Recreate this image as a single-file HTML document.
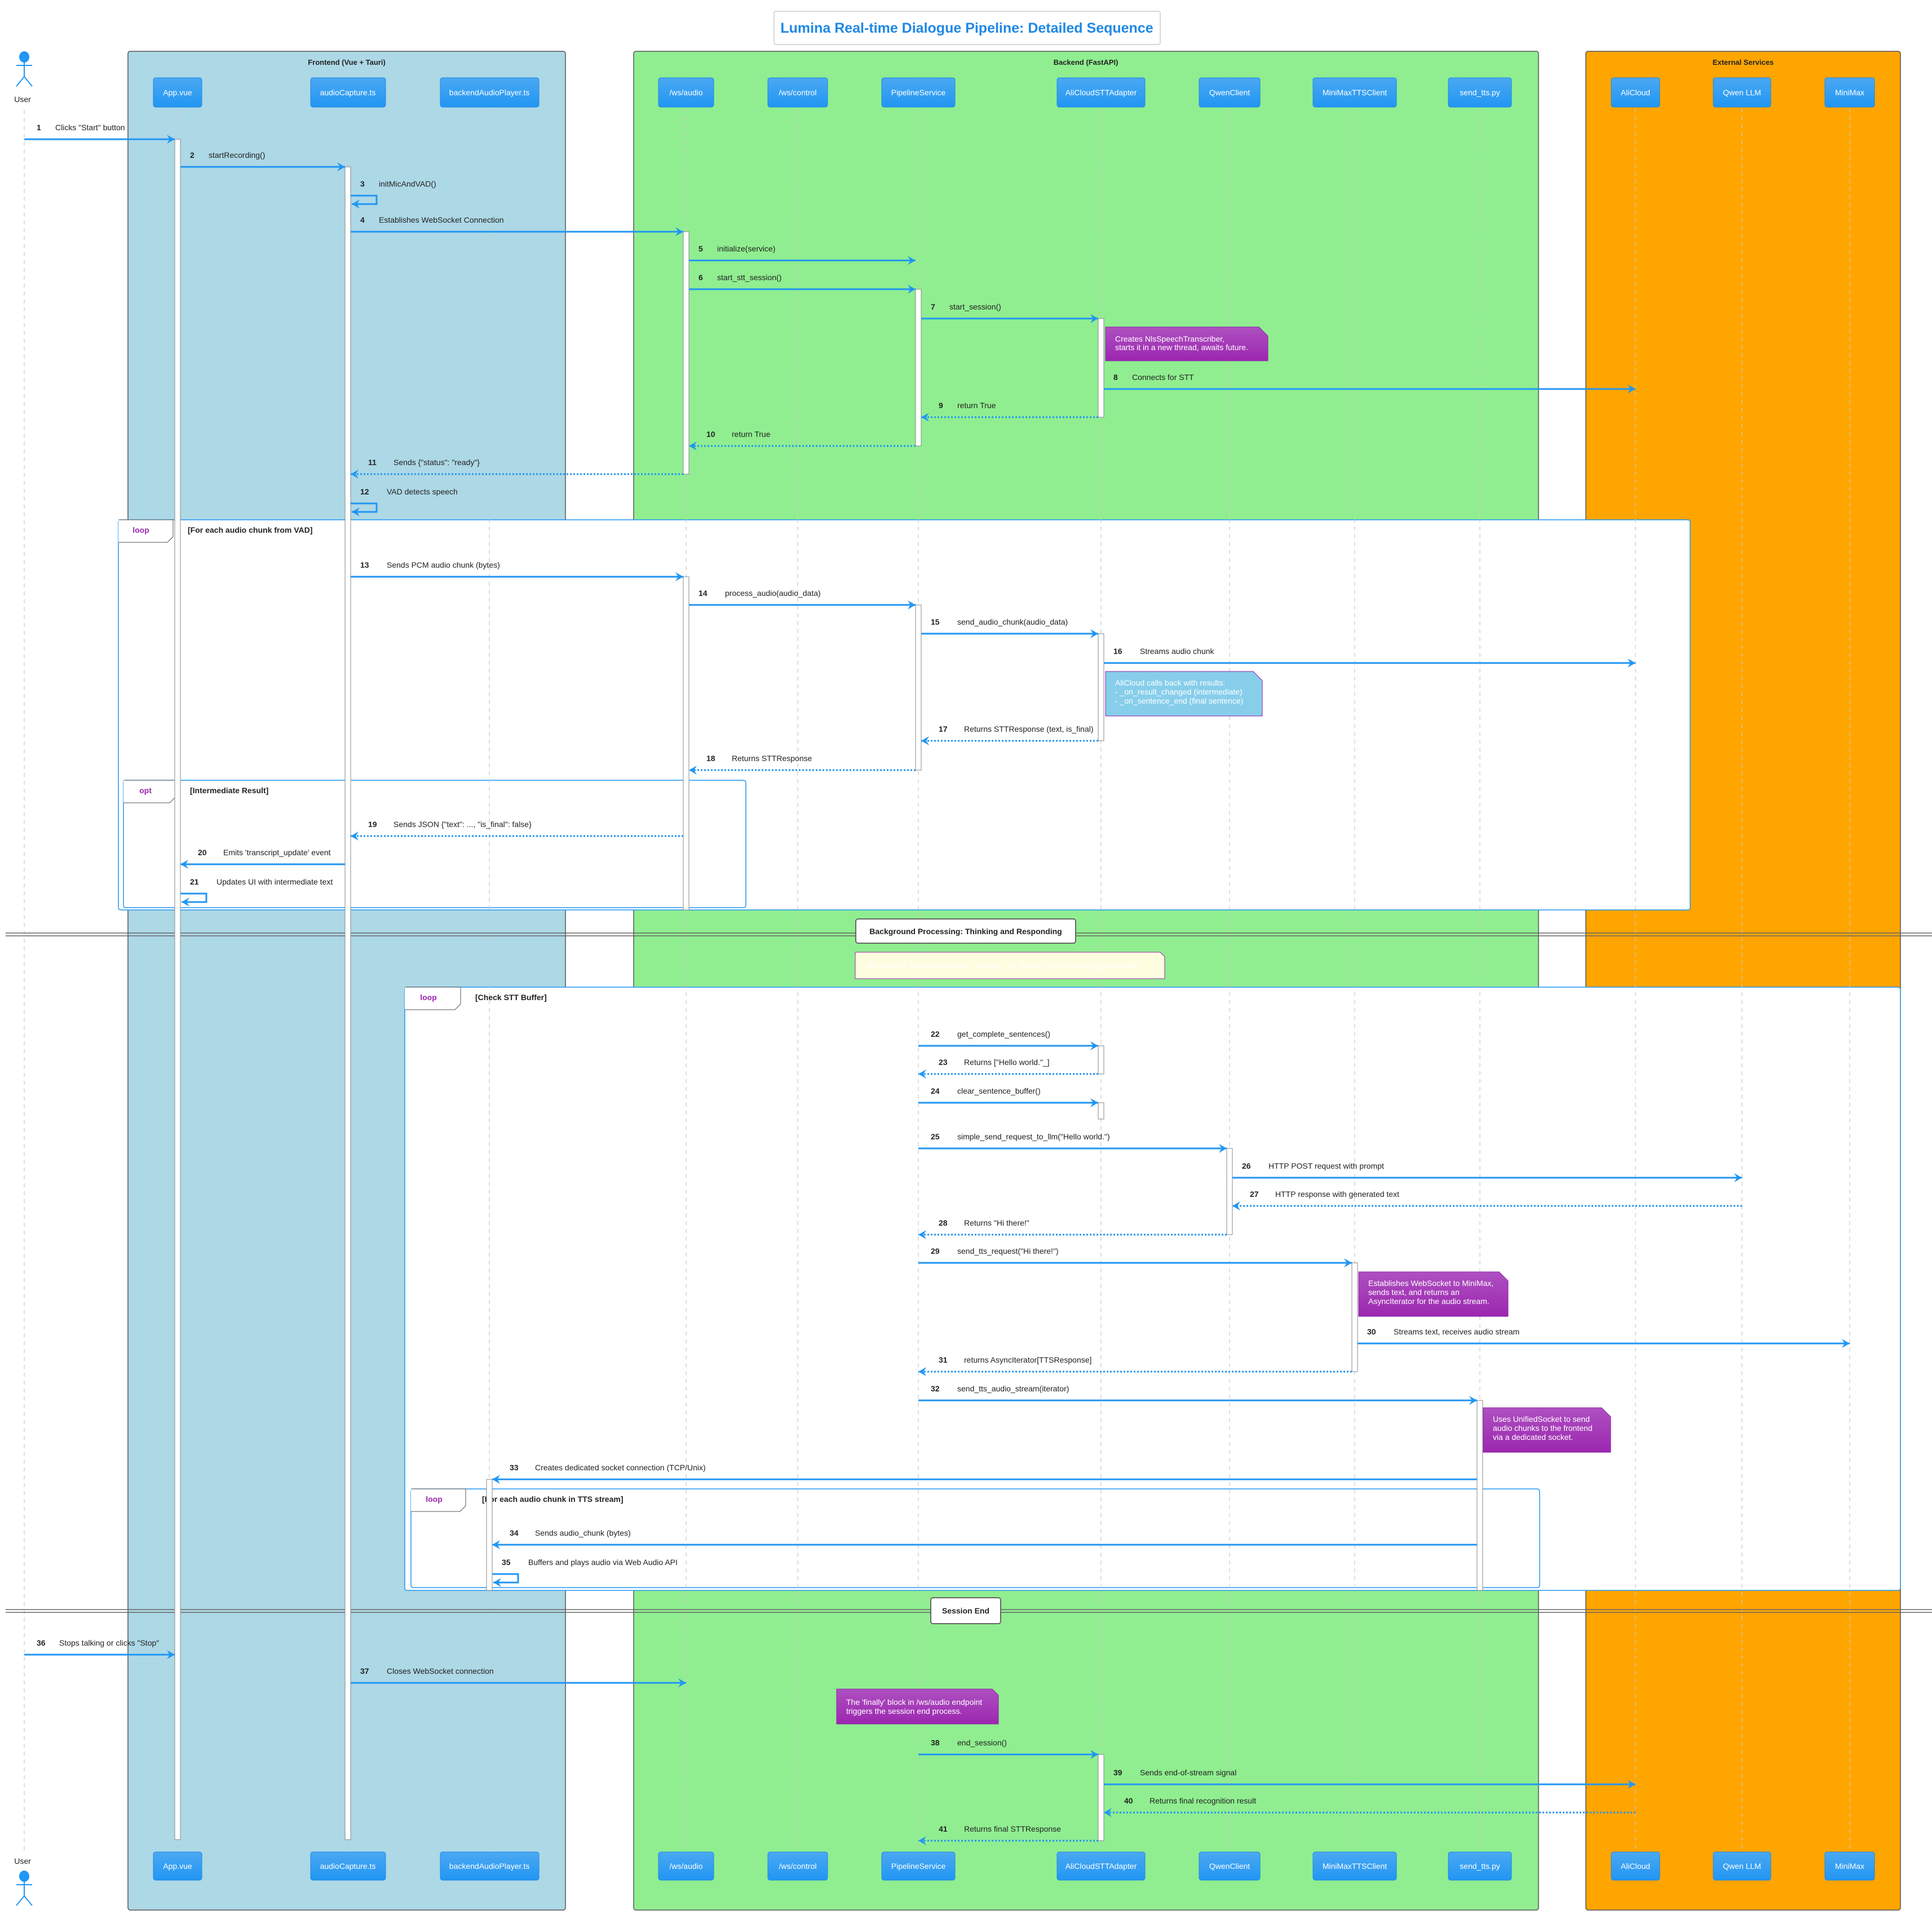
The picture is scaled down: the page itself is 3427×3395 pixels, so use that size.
<!DOCTYPE html>
<html><head><meta charset="utf-8"><style>
html,body{margin:0;padding:0;background:#fff}
svg{display:block}
text{font-family:"Liberation Sans",sans-serif;font-size:14px;fill:#222}
.n{font-weight:bold}
.p{fill:#fff;text-anchor:middle}
.g{font-weight:bold;font-size:13px;text-anchor:middle}
.nt{fill:#fff}
.lt{fill:#9C27B0;font-weight:bold;text-anchor:middle}
.c{font-weight:bold}
.m{stroke:#2196F3;stroke-width:3;fill:none}
.d{stroke:#2196F3;stroke-width:3;fill:none;stroke-dasharray:3,3}
.ll{stroke:#c8c8c8;stroke-width:1.2;stroke-dasharray:7,7}
.act{fill:#fff;stroke:#888;stroke-width:1}
.pb{fill:url(#pg);stroke:#1E88E5;stroke-width:1}
.fr{fill:#fff;stroke:#2196F3;stroke-width:1.5}
</style></head><body>
<svg width="3427" height="3395" viewBox="0 0 3427 3395" xmlns="http://www.w3.org/2000/svg">
<defs>
<linearGradient id="pg" x1="0" y1="0" x2="0" y2="1"><stop offset="0" stop-color="#4BA8F2"/><stop offset="1" stop-color="#2196F3"/></linearGradient>
<linearGradient id="ng" x1="0" y1="0" x2="0" y2="1"><stop offset="0" stop-color="#AE50C0"/><stop offset="1" stop-color="#9C27B0"/></linearGradient>
<marker id="a" markerUnits="userSpaceOnUse" markerWidth="20" markerHeight="20" refX="14" refY="8" orient="auto"><path d="M0,0 L14,8 L0,16 L5,8 Z" fill="#2196F3"/></marker>
</defs>

<rect x="1373" y="20" width="685" height="59" rx="3" fill="#fff" stroke="#ccc" stroke-width="1.5"/>
<text x="1715" y="58" style="font-size:25px;font-weight:bold;fill:#1E88E5;text-anchor:middle">Lumina Real-time Dialogue Pipeline: Detailed Sequence</text>

<rect x="227" y="91" width="776" height="3297" rx="4" fill="#ADD8E6" stroke="#555" stroke-width="1.5"/>
<rect x="1124" y="91" width="1605" height="3297" rx="4" fill="#90EE90" stroke="#555" stroke-width="1.5"/>
<rect x="2813" y="91" width="558" height="3297" rx="4" fill="#FFA500" stroke="#555" stroke-width="1.5"/>
<text class="g" x="615" y="115">Frontend (Vue + Tauri)</text>
<text class="g" x="1926" y="115">Backend (FastAPI)</text>
<text class="g" x="3092" y="115">External Services</text>

<rect class="fr" x="210" y="922" width="2788" height="692" rx="4"/>
<path d="M210,922 H307 V952 L297,962 H210" fill="#fff" stroke="#555" stroke-width="1"/>
<text class="lt" x="250" y="945">loop</text>
<text class="c" x="333" y="945">[For each audio chunk from VAD]</text>

<rect class="fr" x="219" y="1384" width="1104" height="226" rx="4"/>
<path d="M219,1384 H311 V1414 L301,1424 H219" fill="#fff" stroke="#555" stroke-width="1"/>
<text class="lt" x="258" y="1407">opt</text>
<text class="c" x="337" y="1407">[Intermediate Result]</text>

<rect class="fr" x="718" y="1751" width="2653" height="1070" rx="4"/>
<path d="M718,1751 H817 V1781 L807,1791 H718" fill="#fff" stroke="#555" stroke-width="1"/>
<text class="lt" x="760" y="1774">loop</text>
<text class="c" x="843" y="1774">[Check STT Buffer]</text>

<rect class="fr" x="729" y="2641" width="2002" height="175" rx="4"/>
<path d="M729,2641 H826 V2671 L816,2681 H729" fill="#fff" stroke="#555" stroke-width="1"/>
<text class="lt" x="770" y="2664">loop</text>
<text class="c" x="855" y="2664">[For each audio chunk in TTS stream]</text>

<g class="ll">
<line x1="43" y1="195" x2="43" y2="3285"/>
<line x1="315" y1="192" x2="315" y2="3285"/>
<line x1="617" y1="192" x2="617" y2="3285"/>
<line x1="868" y1="192" x2="868" y2="3285"/>
<line x1="1217" y1="192" x2="1217" y2="3285"/>
<line x1="1415" y1="192" x2="1415" y2="3285"/>
<line x1="1629" y1="192" x2="1629" y2="3285"/>
<line x1="1953" y1="192" x2="1953" y2="3285"/>
<line x1="2181" y1="192" x2="2181" y2="3285"/>
<line x1="2403" y1="192" x2="2403" y2="3285"/>
<line x1="2625" y1="192" x2="2625" y2="3285"/>
<line x1="2901" y1="192" x2="2901" y2="3285"/>
<line x1="3090" y1="192" x2="3090" y2="3285"/>
<line x1="3281" y1="192" x2="3281" y2="3285"/>
</g>

<g>
<line x1="10" y1="1655" x2="3427" y2="1655" stroke="#666" stroke-width="1.5"/>
<line x1="10" y1="1660" x2="3427" y2="1660" stroke="#666" stroke-width="1.5"/>
<rect x="1518" y="1630" width="390" height="43" rx="4" fill="#fff" stroke="#666" stroke-width="2"/>
<text class="c" x="1713" y="1657" text-anchor="middle">Background Processing: Thinking and Responding</text>
<line x1="10" y1="2855" x2="3427" y2="2855" stroke="#666" stroke-width="1.5"/>
<line x1="10" y1="2860" x2="3427" y2="2860" stroke="#666" stroke-width="1.5"/>
<rect x="1651" y="2834" width="124" height="46" rx="4" fill="#fff" stroke="#666" stroke-width="2"/>
<text class="c" x="1713" y="2862" text-anchor="middle">Session End</text>
</g>

<g class="act">
<rect x="310" y="247" width="10" height="3016"/>
<rect x="612" y="296" width="10" height="2967"/>
<rect x="1212" y="411" width="10" height="430"/>
<rect x="1212" y="1023" width="10" height="591"/>
<rect x="1624" y="513" width="10" height="278"/>
<rect x="1624" y="1073" width="10" height="293"/>
<rect x="1948" y="565" width="10" height="175"/>
<rect x="1948" y="1124" width="10" height="190"/>
<rect x="1948" y="1855" width="10" height="50"/>
<rect x="1948" y="1956" width="10" height="29"/>
<rect x="1948" y="3112" width="10" height="153"/>
<rect x="2176" y="2037" width="10" height="153"/>
<rect x="2398" y="2240" width="10" height="193"/>
<rect x="2620" y="2484" width="10" height="337"/>
<rect x="863" y="2624" width="10" height="197"/>
</g>

<g>
<rect class="pb" x="272" y="138" width="86" height="52" rx="4"/><text class="p" x="315" y="169">App.vue</text>
<rect class="pb" x="551" y="138" width="133" height="52" rx="4"/><text class="p" x="617" y="169">audioCapture.ts</text>
<rect class="pb" x="781" y="138" width="175" height="52" rx="4"/><text class="p" x="868" y="169">backendAudioPlayer.ts</text>
<rect class="pb" x="1168" y="138" width="98" height="52" rx="4"/><text class="p" x="1217" y="169">/ws/audio</text>
<rect class="pb" x="1362" y="138" width="106" height="52" rx="4"/><text class="p" x="1415" y="169">/ws/control</text>
<rect class="pb" x="1564" y="138" width="130" height="52" rx="4"/><text class="p" x="1629" y="169">PipelineService</text>
<rect class="pb" x="1875" y="138" width="156" height="52" rx="4"/><text class="p" x="1953" y="169">AliCloudSTTAdapter</text>
<rect class="pb" x="2127" y="138" width="108" height="52" rx="4"/><text class="p" x="2181" y="169">QwenClient</text>
<rect class="pb" x="2329" y="138" width="148" height="52" rx="4"/><text class="p" x="2403" y="169">MiniMaxTTSClient</text>
<rect class="pb" x="2569" y="138" width="112" height="52" rx="4"/><text class="p" x="2625" y="169">send_tts.py</text>
<rect class="pb" x="2858" y="138" width="86" height="52" rx="4"/><text class="p" x="2901" y="169">AliCloud</text>
<rect class="pb" x="3039" y="138" width="102" height="52" rx="4"/><text class="p" x="3090" y="169">Qwen LLM</text>
<rect class="pb" x="3237" y="138" width="88" height="52" rx="4"/><text class="p" x="3281" y="169">MiniMax</text>
</g>
<g>
<rect class="pb" x="272" y="3285" width="86" height="50" rx="4"/><text class="p" x="315" y="3315">App.vue</text>
<rect class="pb" x="551" y="3285" width="133" height="50" rx="4"/><text class="p" x="617" y="3315">audioCapture.ts</text>
<rect class="pb" x="781" y="3285" width="175" height="50" rx="4"/><text class="p" x="868" y="3315">backendAudioPlayer.ts</text>
<rect class="pb" x="1168" y="3285" width="98" height="50" rx="4"/><text class="p" x="1217" y="3315">/ws/audio</text>
<rect class="pb" x="1362" y="3285" width="106" height="50" rx="4"/><text class="p" x="1415" y="3315">/ws/control</text>
<rect class="pb" x="1564" y="3285" width="130" height="50" rx="4"/><text class="p" x="1629" y="3315">PipelineService</text>
<rect class="pb" x="1875" y="3285" width="156" height="50" rx="4"/><text class="p" x="1953" y="3315">AliCloudSTTAdapter</text>
<rect class="pb" x="2127" y="3285" width="108" height="50" rx="4"/><text class="p" x="2181" y="3315">QwenClient</text>
<rect class="pb" x="2329" y="3285" width="148" height="50" rx="4"/><text class="p" x="2403" y="3315">MiniMaxTTSClient</text>
<rect class="pb" x="2569" y="3285" width="112" height="50" rx="4"/><text class="p" x="2625" y="3315">send_tts.py</text>
<rect class="pb" x="2858" y="3285" width="86" height="50" rx="4"/><text class="p" x="2901" y="3315">AliCloud</text>
<rect class="pb" x="3039" y="3285" width="102" height="50" rx="4"/><text class="p" x="3090" y="3315">Qwen LLM</text>
<rect class="pb" x="3237" y="3285" width="88" height="50" rx="4"/><text class="p" x="3281" y="3315">MiniMax</text>
</g>

<g stroke="#2196F3" stroke-width="2" fill="none">
<ellipse cx="43" cy="101" rx="8" ry="9" fill="#2196F3"/>
<line x1="43" y1="110" x2="43" y2="136"/><line x1="29" y1="116" x2="57" y2="116"/>
<line x1="43" y1="136" x2="29" y2="153"/><line x1="43" y1="136" x2="57" y2="153"/>
<ellipse cx="43" cy="3328" rx="8" ry="9" fill="#2196F3"/>
<line x1="43" y1="3337" x2="43" y2="3363"/><line x1="29" y1="3343" x2="57" y2="3343"/>
<line x1="43" y1="3363" x2="29" y2="3380"/><line x1="43" y1="3363" x2="57" y2="3380"/>
</g>
<text x="40" y="181" text-anchor="middle">User</text>
<text x="40" y="3306" text-anchor="middle">User</text>

<g>
<path d="M1961,580 H2233 L2249,596 V640 H1961 Z" fill="url(#ng)" stroke="#8E24AA"/>
<text class="nt" x="1978" y="606">Creates NlsSpeechTranscriber,</text>
<text class="nt" x="1978" y="621">starts it in a new thread, awaits future.</text>
<path d="M1961,1191 H2223 L2239,1207 V1270 H1961 Z" fill="#87CEEB" stroke="#8E24AA"/>
<text class="nt" x="1978" y="1216">AliCloud calls back with results:</text>
<text class="nt" x="1978" y="1232">- _on_result_changed (intermediate)</text>
<text class="nt" x="1978" y="1248">- _on_sentence_end (final sentence)</text>
<path d="M1517,1689 H2058 L2066,1697 V1736 H1517 Z" fill="#FFFDE0" stroke="#9C27B0"/>
<text class="nt" x="1540" y="1718">Meanwhile, PipelineService's _monitor_stt_buffer() task is running periodically.</text>
<path d="M2410,2256 H2659 L2675,2272 V2335 H2410 Z" fill="url(#ng)" stroke="#8E24AA"/>
<text class="nt" x="2427" y="2281">Establishes WebSocket to MiniMax,</text>
<text class="nt" x="2427" y="2297">sends text, and returns an</text>
<text class="nt" x="2427" y="2313">AsyncIterator for the audio stream.</text>
<path d="M2631,2497 H2841 L2857,2513 V2576 H2631 Z" fill="url(#ng)" stroke="#8E24AA"/>
<text class="nt" x="2648" y="2522">Uses UnifiedSocket to send</text>
<text class="nt" x="2648" y="2538">audio chunks to the frontend</text>
<text class="nt" x="2648" y="2554">via a dedicated socket.</text>
<path d="M1484,2996 H1760 L1771,3007 V3058 H1484 Z" fill="url(#ng)" stroke="#8E24AA"/>
<text class="nt" x="1501" y="3024">The 'finally' block in /ws/audio endpoint</text>
<text class="nt" x="1501" y="3040">triggers the session end process.</text>
</g>

<g>
<line class="m" x1="43" y1="247" x2="310" y2="247" marker-end="url(#a)"/><text class="n" x="65" y="231">1</text><text x="98" y="231">Clicks "Start" button</text>
<line class="m" x1="320" y1="296" x2="612" y2="296" marker-end="url(#a)"/><text class="n" x="337" y="280">2</text><text x="370" y="280">startRecording()</text>
<path class="m" d="M622,347 H668 V362 H624" marker-end="url(#a)"/><text class="n" x="639" y="331">3</text><text x="672" y="331">initMicAndVAD()</text>
<line class="m" x1="622" y1="411" x2="1212" y2="411" marker-end="url(#a)"/><text class="n" x="639" y="395">4</text><text x="672" y="395">Establishes WebSocket Connection</text>
<line class="m" x1="1222" y1="462" x2="1624" y2="462" marker-end="url(#a)"/><text class="n" x="1239" y="446">5</text><text x="1272" y="446">initialize(service)</text>
<line class="m" x1="1222" y1="513" x2="1624" y2="513" marker-end="url(#a)"/><text class="n" x="1239" y="497">6</text><text x="1272" y="497">start_stt_session()</text>
<line class="m" x1="1634" y1="565" x2="1948" y2="565" marker-end="url(#a)"/><text class="n" x="1651" y="549">7</text><text x="1684" y="549">start_session()</text>
<line class="m" x1="1958" y1="690" x2="2901" y2="690" marker-end="url(#a)"/><text class="n" x="1975" y="674">8</text><text x="2008" y="674">Connects for STT</text>
<line class="d" x1="1948" y1="740" x2="1634" y2="740" marker-end="url(#a)"/><text class="n" x="1665" y="724">9</text><text x="1698" y="724">return True</text>
<line class="d" x1="1624" y1="791" x2="1222" y2="791" marker-end="url(#a)"/><text class="n" x="1253" y="775">10</text><text x="1298" y="775">return True</text>
<line class="d" x1="1212" y1="841" x2="622" y2="841" marker-end="url(#a)"/><text class="n" x="653" y="825">11</text><text x="698" y="825">Sends {"status": "ready"}</text>
<path class="m" d="M622,893 H668 V908 H624" marker-end="url(#a)"/><text class="n" x="639" y="877">12</text><text x="686" y="877">VAD detects speech</text>
<line class="m" x1="622" y1="1023" x2="1212" y2="1023" marker-end="url(#a)"/><text class="n" x="639" y="1007">13</text><text x="686" y="1007">Sends PCM audio chunk (bytes)</text>
<line class="m" x1="1222" y1="1073" x2="1624" y2="1073" marker-end="url(#a)"/><text class="n" x="1239" y="1057">14</text><text x="1286" y="1057">process_audio(audio_data)</text>
<line class="m" x1="1634" y1="1124" x2="1948" y2="1124" marker-end="url(#a)"/><text class="n" x="1651" y="1108">15</text><text x="1698" y="1108">send_audio_chunk(audio_data)</text>
<line class="m" x1="1958" y1="1176" x2="2901" y2="1176" marker-end="url(#a)"/><text class="n" x="1975" y="1160">16</text><text x="2022" y="1160">Streams audio chunk</text>
<line class="d" x1="1948" y1="1314" x2="1634" y2="1314" marker-end="url(#a)"/><text class="n" x="1665" y="1298">17</text><text x="1710" y="1298">Returns STTResponse (text, is_final)</text>
<line class="d" x1="1624" y1="1366" x2="1222" y2="1366" marker-end="url(#a)"/><text class="n" x="1253" y="1350">18</text><text x="1298" y="1350">Returns STTResponse</text>
<line class="d" x1="1212" y1="1483" x2="622" y2="1483" marker-end="url(#a)"/><text class="n" x="653" y="1467">19</text><text x="698" y="1467">Sends JSON {"text": ..., "is_final": false}</text>
<line class="m" x1="612" y1="1533" x2="320" y2="1533" marker-end="url(#a)"/><text class="n" x="351" y="1517">20</text><text x="396" y="1517">Emits 'transcript_update' event</text>
<path class="m" d="M320,1585 H366 V1600 H322" marker-end="url(#a)"/><text class="n" x="337" y="1569">21</text><text x="384" y="1569">Updates UI with intermediate text</text>
<line class="m" x1="1629" y1="1855" x2="1948" y2="1855" marker-end="url(#a)"/><text class="n" x="1651" y="1839">22</text><text x="1698" y="1839">get_complete_sentences()</text>
<line class="d" x1="1948" y1="1905" x2="1629" y2="1905" marker-end="url(#a)"/><text class="n" x="1665" y="1889">23</text><text x="1710" y="1889">Returns ["Hello world."_]</text>
<line class="m" x1="1629" y1="1956" x2="1948" y2="1956" marker-end="url(#a)"/><text class="n" x="1651" y="1940">24</text><text x="1698" y="1940">clear_sentence_buffer()</text>
<line class="m" x1="1629" y1="2037" x2="2176" y2="2037" marker-end="url(#a)"/><text class="n" x="1651" y="2021">25</text><text x="1698" y="2021">simple_send_request_to_llm("Hello world.")</text>
<line class="m" x1="2186" y1="2089" x2="3090" y2="2089" marker-end="url(#a)"/><text class="n" x="2203" y="2073">26</text><text x="2250" y="2073">HTTP POST request with prompt</text>
<line class="d" x1="3090" y1="2139" x2="2186" y2="2139" marker-end="url(#a)"/><text class="n" x="2217" y="2123">27</text><text x="2262" y="2123">HTTP response with generated text</text>
<line class="d" x1="2176" y1="2190" x2="1629" y2="2190" marker-end="url(#a)"/><text class="n" x="1665" y="2174">28</text><text x="1710" y="2174">Returns "Hi there!"</text>
<line class="m" x1="1629" y1="2240" x2="2398" y2="2240" marker-end="url(#a)"/><text class="n" x="1651" y="2224">29</text><text x="1698" y="2224">send_tts_request("Hi there!")</text>
<line class="m" x1="2408" y1="2383" x2="3281" y2="2383" marker-end="url(#a)"/><text class="n" x="2425" y="2367">30</text><text x="2472" y="2367">Streams text, receives audio stream</text>
<line class="d" x1="2398" y1="2433" x2="1629" y2="2433" marker-end="url(#a)"/><text class="n" x="1665" y="2417">31</text><text x="1710" y="2417">returns AsyncIterator[TTSResponse]</text>
<line class="m" x1="1629" y1="2484" x2="2620" y2="2484" marker-end="url(#a)"/><text class="n" x="1651" y="2468">32</text><text x="1698" y="2468">send_tts_audio_stream(iterator)</text>
<line class="m" x1="2620" y1="2624" x2="873" y2="2624" marker-end="url(#a)"/><text class="n" x="904" y="2608">33</text><text x="949" y="2608">Creates dedicated socket connection (TCP/Unix)</text>
<line class="m" x1="2620" y1="2740" x2="873" y2="2740" marker-end="url(#a)"/><text class="n" x="904" y="2724">34</text><text x="949" y="2724">Sends audio_chunk (bytes)</text>
<path class="m" d="M873,2792 H919 V2807 H875" marker-end="url(#a)"/><text class="n" x="890" y="2776">35</text><text x="937" y="2776">Buffers and plays audio via Web Audio API</text>
<line class="m" x1="43" y1="2935" x2="310" y2="2935" marker-end="url(#a)"/><text class="n" x="65" y="2919">36</text><text x="105" y="2919">Stops talking or clicks "Stop"</text>
<line class="m" x1="622" y1="2985" x2="1217" y2="2985" marker-end="url(#a)"/><text class="n" x="639" y="2969">37</text><text x="686" y="2969">Closes WebSocket connection</text>
<line class="m" x1="1629" y1="3112" x2="1948" y2="3112" marker-end="url(#a)"/><text class="n" x="1651" y="3096">38</text><text x="1698" y="3096">end_session()</text>
<line class="m" x1="1958" y1="3165" x2="2901" y2="3165" marker-end="url(#a)"/><text class="n" x="1975" y="3149">39</text><text x="2022" y="3149">Sends end-of-stream signal</text>
<line class="d" x1="2901" y1="3215" x2="1958" y2="3215" marker-end="url(#a)"/><text class="n" x="1994" y="3199">40</text><text x="2039" y="3199">Returns final recognition result</text>
<line class="d" x1="1948" y1="3265" x2="1629" y2="3265" marker-end="url(#a)"/><text class="n" x="1665" y="3249">41</text><text x="1710" y="3249">Returns final STTResponse</text>
</g>
</svg>
</body></html>
